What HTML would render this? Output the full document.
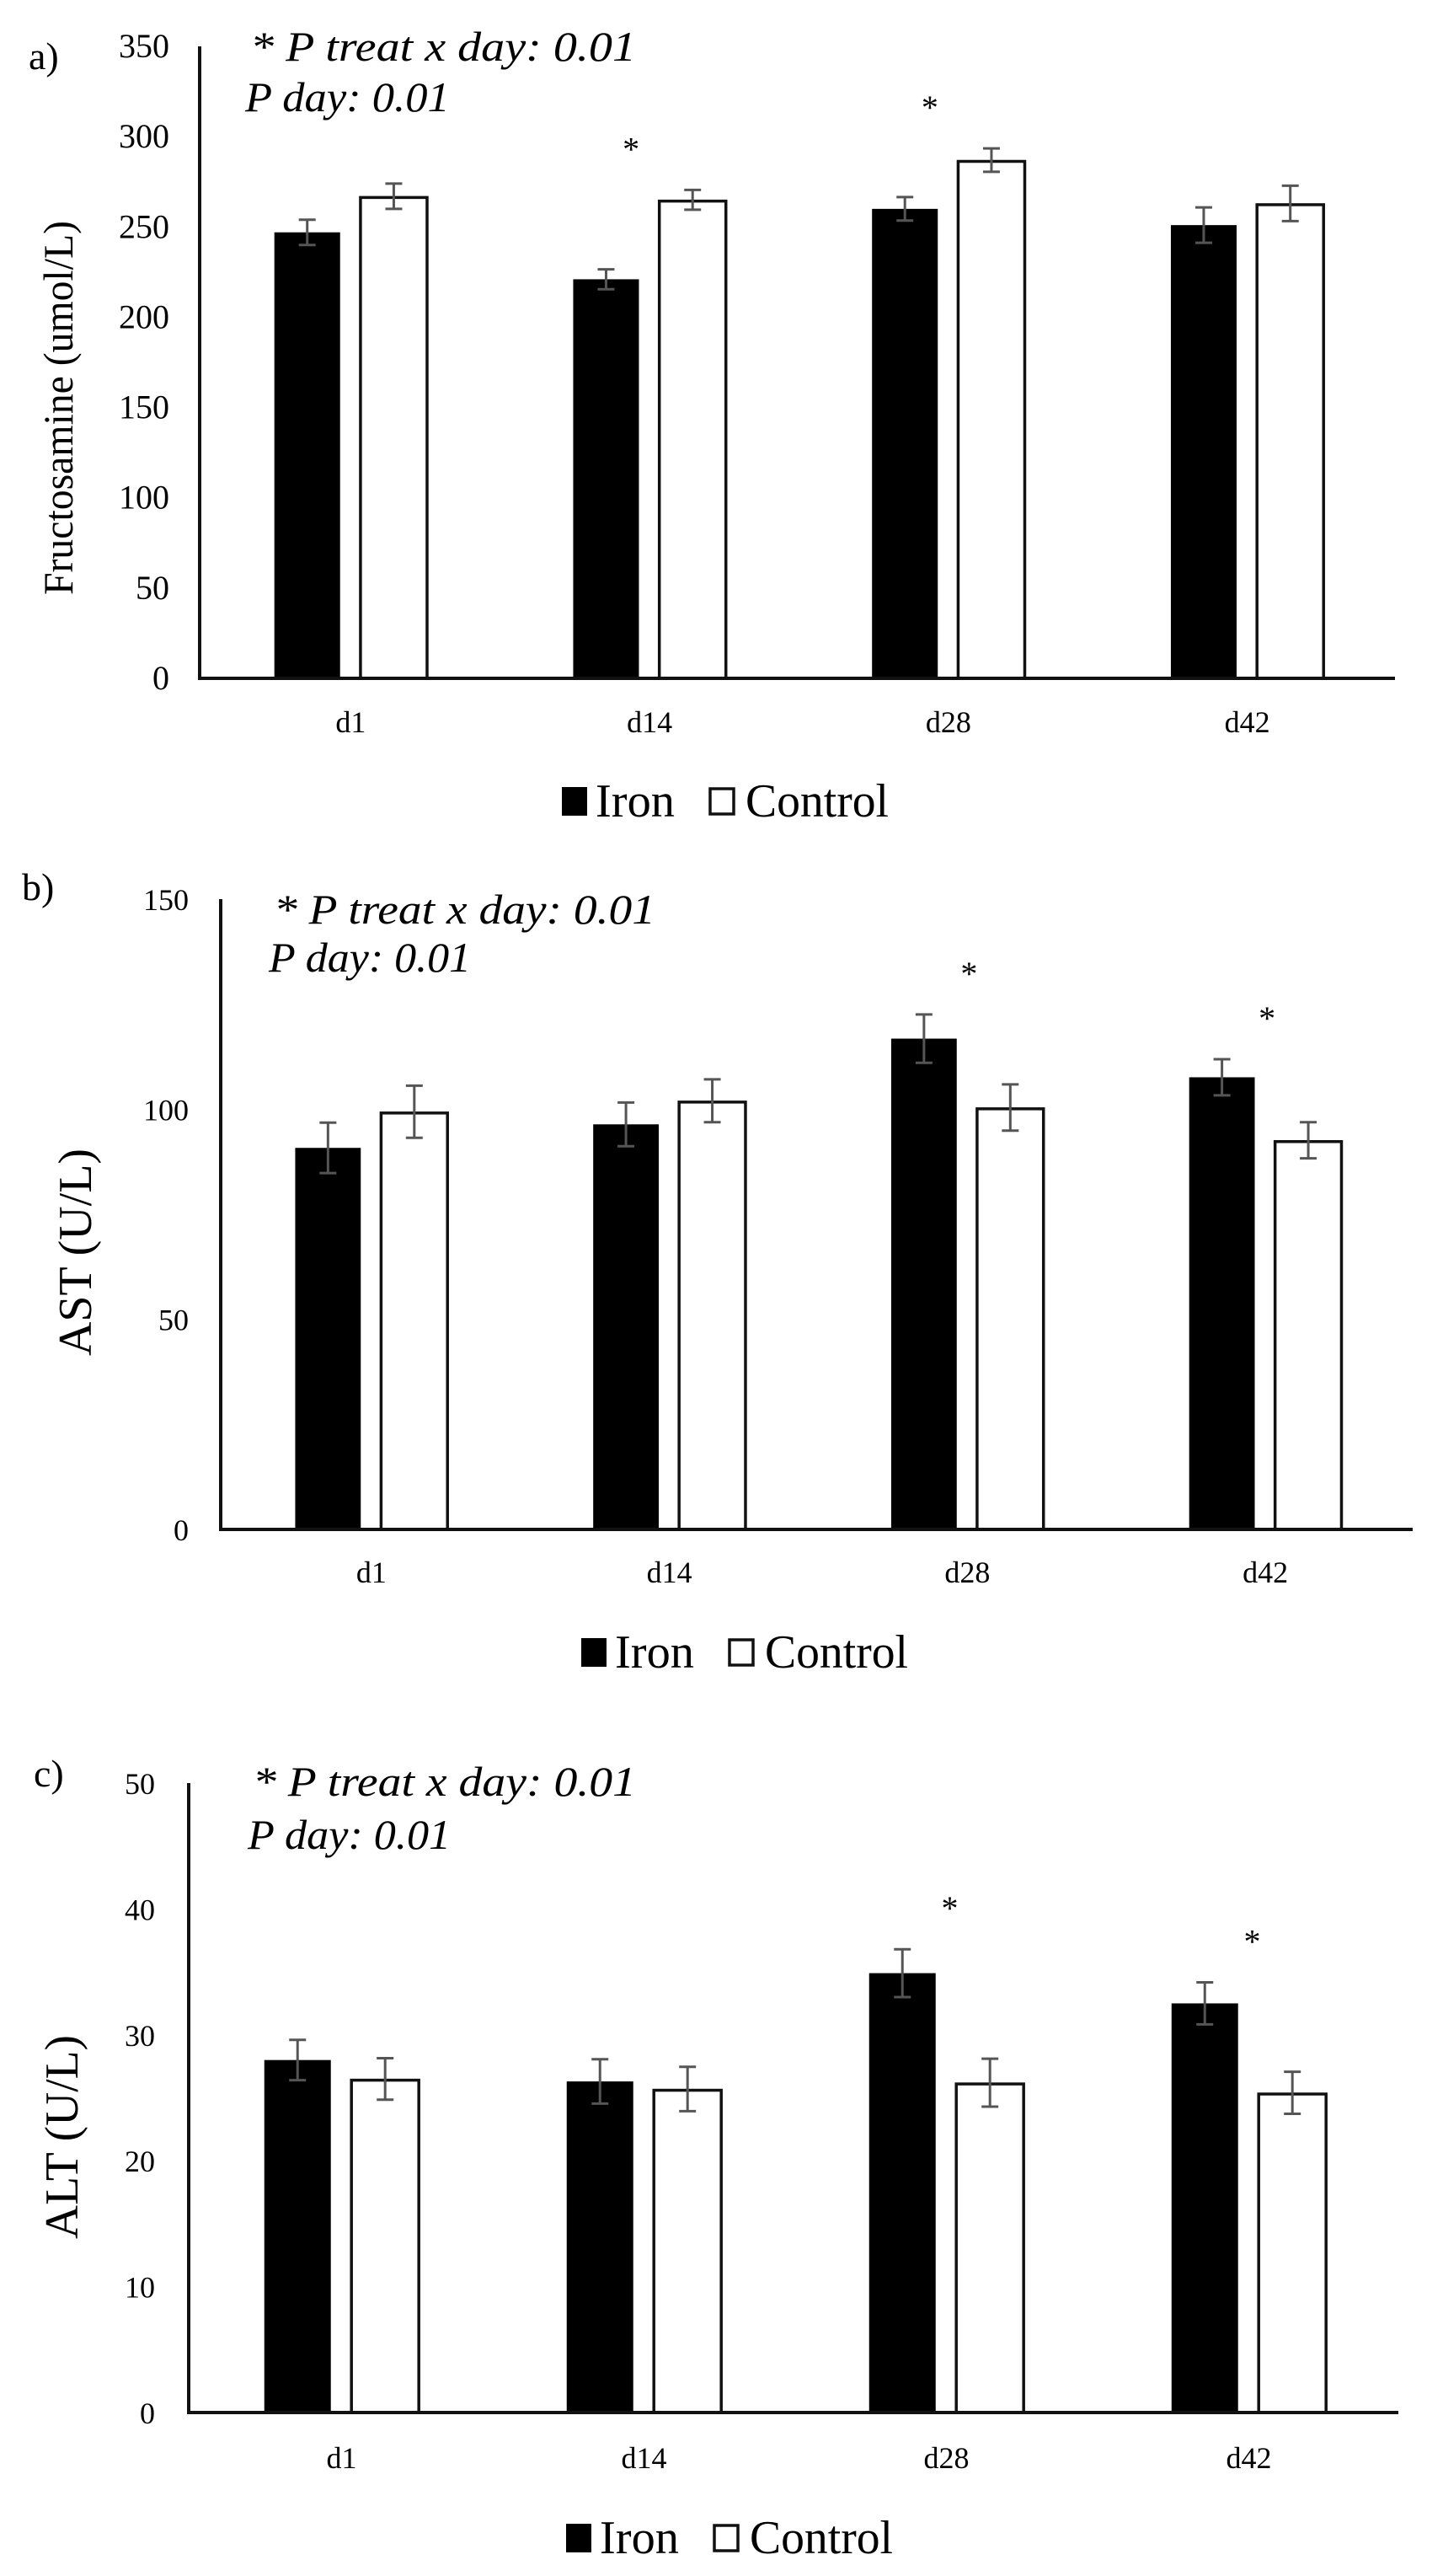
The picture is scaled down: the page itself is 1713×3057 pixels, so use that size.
<!DOCTYPE html>
<html><head><meta charset="utf-8"><title>Fructosamine, AST and ALT for Iron and Control groups</title>
<style>
html,body{margin:0;padding:0;background:#fff;}
svg{display:block;}
text{font-family:"Liberation Serif",serif;fill:#000;}
</style></head>
<body>
<svg id="fig" width="1713" height="3057" viewBox="0 0 1713 3057" xmlns="http://www.w3.org/2000/svg">
<rect x="0" y="0" width="1713" height="3057" fill="#fff"/>
</svg>
<script>
// ---- data ----
const categories = ["d1","d14","d28","d42"];
const seriesNames = ["Iron","Control"];
// Panel a: Fructosamine (umol/L)
const ironA = [247, 221, 260, 251];
const ctrlA = [267, 265, 287, 263];
const ironErrA = [7, 5.5, 6.5, 9.8];
const ctrlErrA = [7, 5.5, 6.5, 9.8];
const starsA = [1, 2];
const ticksA = [0, 50, 100, 150, 200, 250, 300, 350];
// Panel b: AST (U/L)
const ironB = [90.8, 96.4, 116.8, 107.6];
const ctrlB = [99.4, 102, 100.4, 92.6];
const ironErrB = [6, 5.2, 5.75, 4.3];
const ctrlErrB = [6.2, 5.1, 5.5, 4.3];
const starsB = [2, 3];
const ticksB = [0, 50, 100, 150];
// Panel c: ALT (U/L)
const ironC = [28.0, 26.3, 34.9, 32.5];
const ctrlC = [26.5, 25.7, 26.2, 25.4];
const ironErrC = [1.6, 1.76, 1.9, 1.67];
const ctrlErrC = [1.65, 1.76, 1.9, 1.67];
const starsC = [2, 3];
const ticksC = [0, 10, 20, 30, 40, 50];

const NS = "http://www.w3.org/2000/svg";
const svg = document.getElementById("fig");
function mk(tag, attrs, parent){
  const e = document.createElementNS(NS, tag);
  for (const k in attrs) e.setAttribute(k, attrs[k]);
  (parent||svg).appendChild(e);
  return e;
}

function drawPanel(p){
  const g = mk("g", {});
  
  
  const yScale = v => p.y0 - (v - 0) / p.max * (p.y0 - p.yTop);
  const cw = (p.x1 - p.x0) / categories.length;
  const xCenter = i => p.x0 + cw * (i + 0.5);

  // panel letter
  const lt = mk("text", {x:p.letterX, y:p.letterY, "font-size":46}, g);
  lt.textContent = p.letter;
  
  

  // y ticks
  p.ticks.forEach(t => {
    const tx = mk("text", {x:p.tickRight, y:yScale(t) + 13, "font-size":p.tickFont, "text-anchor":"end", fill:"#222"}, g);
    tx.textContent = t;
    
    
  });

  // y title
  const yt = mk("text", {x:0, y:0, "font-size":p.titleFont, "text-anchor":"middle",
    transform:"translate(" + p.titleX + "," + p.titleY + ") rotate(-90)", textLength:p.titleLen, lengthAdjust:"spacingAndGlyphs"}, g);
  yt.textContent = p.title;
  
  

  // annotation
  const a1 = mk("text", {x:p.annX, y:p.annY1, "font-size":50, "font-style":"italic", textLength:p.annLen, lengthAdjust:"spacingAndGlyphs"}, g);
  a1.textContent = "* P treat x day: 0.01";
  
  
  const a2 = mk("text", {x:p.annX - 6, y:p.annY2, "font-size":50, "font-style":"italic", textLength:p.annLen * 0.53, lengthAdjust:"spacingAndGlyphs"}, g);
  a2.textContent = "P day: 0.01";
  
  

  // bars
  categories.forEach((c, i) => {
    const cx = xCenter(i);
    const ix = cx - 0.25 * cw, bw = 0.22 * cw;
    const yi = yScale(p.iron[i]);
    const rb = mk("rect", {x:ix, y:yi, width:bw, height:p.y0 - yi, fill:"#000"}, g);
    
    
    const ccx = cx + 0.034 * cw;
    const yc = yScale(p.ctrl[i]);
    const rc = mk("rect", {x:ccx + 1.5, y:yc + 1.5, width:bw + 1, height:p.y0 - yc - 1.5, fill:"#fff", stroke:"#111", "stroke-width":3.5}, g);
    
    
    // error bars
    [[ix + bw/2, p.iron[i], p.ironErr[i], 'iron'], [ccx + 1.5 + (bw+1)/2, p.ctrl[i], p.ctrlErr[i], 'control']].forEach(e => {
      const eg = mk("g", {stroke:"#555", "stroke-width":3}, g);
      
      
      const yh = yScale(e[1] + e[2]), yl = yScale(e[1] - e[2]);
      mk("line", {x1:e[0], x2:e[0], y1:yh, y2:yl}, eg);
      mk("line", {x1:e[0] - 10, x2:e[0] + 10, y1:yh, y2:yh}, eg);
      mk("line", {x1:e[0] - 10, x2:e[0] + 10, y1:yl, y2:yl}, eg);
    });
    // category label
    const cl = mk("text", {x:cx + 2, y:p.labelY + 12, "font-size":36, "text-anchor":"middle", fill:"#222"}, g);
    cl.textContent = c;
    
    
  });

  // significance stars
  p.stars.forEach(i => {
    const top = Math.max(p.iron[i] + p.ironErr[i], p.ctrl[i] + p.ctrlErr[i]);
    const st = mk("text", {x:xCenter(i) + p.starDx, y:yScale(top) - 35, "font-size":40, "text-anchor":"middle"}, g);
    st.textContent = "*";
    
    
  });

  // axes
  const ya = mk("line", {x1:p.x0, x2:p.x0, y1:p.yTop, y2:p.y0 + 2, stroke:"#111", "stroke-width":4}, g);
  
  
  const xa = mk("line", {x1:p.x0 - 2, x2:p.x1, y1:p.y0, y2:p.y0, stroke:"#111", "stroke-width":4}, g);
  
  

  // legend
  const lg = mk("g", {}, g);
  
  
  const e1 = mk("g", {}, lg);
  
  
  mk("rect", {x:p.legX, y:p.legY - 16, width:30, height:34, fill:"#000"}, e1);
  const t1 = mk("text", {x:p.legX + 40, y:p.legY + 19, "font-size":56, textLength:94, lengthAdjust:"spacingAndGlyphs"}, e1);
  t1.textContent = seriesNames[0];
  const e2 = mk("g", {}, lg);
  
  
  mk("rect", {x:p.legX + 176, y:p.legY - 14, width:28, height:30, fill:"#fff", stroke:"#111", "stroke-width":3.5}, e2);
  const t2 = mk("text", {x:p.legX + 218, y:p.legY + 19, "font-size":56, textLength:170, lengthAdjust:"spacingAndGlyphs"}, e2);
  t2.textContent = seriesNames[1];
}

drawPanel({id:"fructosamine", letter:"a)", letterX:34, letterY:82,
  iron:ironA, ctrl:ctrlA, ironErr:ironErrA, ctrlErr:ctrlErrA, stars:starsA, ticks:ticksA, max:350,
  x0:237, x1:1656, y0:805, yTop:55, tickRight:201, tickFont:40,
  title:"Fructosamine (umol/L)", titleX:86, titleY:484, titleLen:444, titleFont:50,
  annX:297, annY1:72, annY2:132, annLen:458, labelY:857, legX:667, legY:950, starDx:-20});

drawPanel({id:"ast", letter:"b)", letterX:26, letterY:1068,
  iron:ironB, ctrl:ctrlB, ironErr:ironErrB, ctrlErr:ctrlErrB, stars:starsB, ticks:ticksB, max:150,
  x0:262, x1:1677, y0:1815, yTop:1067, tickRight:224, tickFont:36,
  title:"AST (U/L)", titleX:108, titleY:1486, titleLen:246, titleFont:56,
  annX:325, annY1:1096, annY2:1153, annLen:453, labelY:1866, legX:690, legY:1960, starDx:4});

drawPanel({id:"alt", letter:"c)", letterX:40, letterY:2120,
  iron:ironC, ctrl:ctrlC, ironErr:ironErrC, ctrlErr:ctrlErrC, stars:starsC, ticks:ticksC, max:50,
  x0:224, x1:1660, y0:2863, yTop:2116, tickRight:184, tickFont:36,
  title:"ALT (U/L)", titleX:92, titleY:2536, titleLen:242, titleFont:56,
  annX:300, annY1:2131, annY2:2194, annLen:455, labelY:2917, legX:672, legY:3011, starDx:6});
</script>
</body></html>
